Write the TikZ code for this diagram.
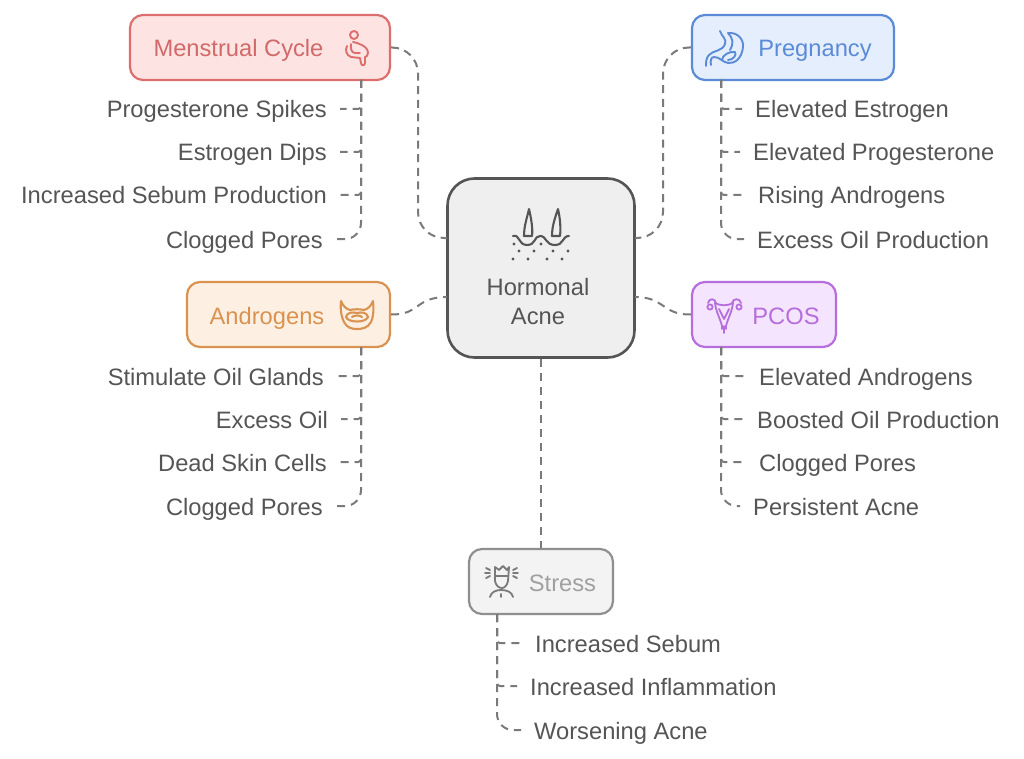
\documentclass[tikz,border=0pt]{standalone}
\usepackage{fontspec}
\setmainfont{Liberation Sans}
\usetikzlibrary{calc}
\definecolor{inkgray}{HTML}{555555}
\definecolor{linkgray}{HTML}{7A7A7A}
\definecolor{redline}{HTML}{DC6E6E}
\definecolor{redfill}{HTML}{FDE4E3}
\definecolor{blueline}{HTML}{5B8BD6}
\definecolor{bluefill}{HTML}{E4EEFD}
\definecolor{orangeline}{HTML}{D9924F}
\definecolor{orangefill}{HTML}{FDF0E3}
\definecolor{purpleline}{HTML}{B56EDC}
\definecolor{purplefill}{HTML}{F5E4FD}
\definecolor{grayline}{HTML}{8F8F8F}
\definecolor{grayfill}{HTML}{F3F3F3}
\definecolor{hubfill}{HTML}{EFEFEF}

\begin{document}
\begin{tikzpicture}[
  x=1pt, y=-1pt,
  font=\fontsize{23.7}{27.5}\selectfont,
  % Node styles
  hub/.style={draw=inkgray, fill=hubfill, line width=2.6pt, rounded corners=27pt, minimum width=187pt, minimum height=179pt, inner sep=0pt},
  topic/.style={line width=2.2pt, rounded corners=13pt, minimum height=65pt, inner sep=0pt},
  topicred/.style={topic, draw=redline, fill=redfill},
  topicblue/.style={topic, draw=blueline, fill=bluefill},
  topicorange/.style={topic, draw=orangeline, fill=orangefill},
  topicpurple/.style={topic, draw=purpleline, fill=purplefill},
  topicgray/.style={topic, draw=grayline, fill=grayfill},
  % Text styles
  item/.style={text=inkgray, inner xsep=13pt, inner ysep=0pt, text height=18pt, text depth=0pt},
  itemleft/.style={item, anchor=east},
  itemright/.style={item, anchor=west},
  title/.style={inner sep=0pt, text height=18pt, text depth=0pt},
  % Edge styles
  link/.style={draw=linkgray, line width=2pt, dash pattern=on 8pt off 6pt},
  hublink/.style={draw=linkgray, line width=2pt, dash pattern=on 8pt off 5.6pt, rounded corners=26pt},
  twig/.style={link, rounded corners=3pt},
  lasttwig/.style={link, rounded corners=16pt},
  % Icon style
  icon/.style={line width=1.9pt, line cap=round, line join=round}
]

\useasboundingbox (0,0) rectangle (1024,759);
\fill[white] (0,0) rectangle (1024,759);

% ------------------------------------------------------------
% Central node
% ------------------------------------------------------------
\node[hub] (hub) at (541,268) {};
\node[inner sep=0pt, text=inkgray, align=center] (hub_t) at (538,301.5) {Hormonal\\[1.5pt]Acne};

% Where the links meet the central node
\coordinate (hub_lt) at (447,238);
\coordinate (hub_rt) at (635,238);
\coordinate (hub_lb) at (447,297);
\coordinate (hub_rb) at (635,297);

% ------------------------------------------------------------
% Topic boxes
% ------------------------------------------------------------
\node[topicred, minimum width=260pt]    (mc) at (260,47.5) {};
\node[topicblue, minimum width=202pt]   (pr) at (793,47.5) {};
\node[topicorange, minimum width=203pt] (an) at (288.5,314.5) {};
\node[topicpurple, minimum width=144pt] (pc) at (764,314.5) {};
\node[topicgray, minimum width=144pt]   (st) at (541,581.5) {};

\node[title, text=redline!95!black]    (mc_t) at (238.5,48) {Menstrual Cycle};
\node[title, text=blueline]            (pr_t) at (815,48) {Pregnancy};
\node[title, text=orangeline]          (an_t) at (267,315) {Androgens};
\node[title, text=purpleline]          (pc_t) at (786,315) {PCOS};
\node[title, text=grayline!85!white]   (st_t) at (562.5,582) {Stress};

% Free ends on the box edges, and the bends of the hub links
\coordinate (mc_s) at (361,80);
\coordinate (pr_s) at (721,80);
\coordinate (an_s) at (361,347);
\coordinate (pc_s) at (721,347);
\coordinate (st_s) at (497,614);
\coordinate (mc_in) at (418,238);
\coordinate (pr_in) at (663,238);

% ------------------------------------------------------------
% Links to the central node
% ------------------------------------------------------------
\draw[hublink] (mc.east) -| (mc_in) -- (hub_lt);
\draw[hublink] (pr.west) -| (pr_in) -- (hub_rt);
\draw[link] (an.east) .. controls (420,315) and (415,297) .. (hub_lb);
\draw[link] (pc.west) .. controls (662,315) and (665,297) .. (hub_rb);
\draw[link] (hub.south) -- (st.north);

% ------------------------------------------------------------
% Menstrual Cycle items
% ------------------------------------------------------------
\node[itemleft] (mc_a) at (340,109) {Progesterone Spikes};
\node[itemleft] (mc_b) at (340,152) {Estrogen Dips};
\node[itemleft] (mc_c) at (340,195) {Increased Sebum Production};
\node[itemleft] (mc_d) at (336,239) {Clogged Pores};
\draw[twig] (mc_s) |- (mc_a.east);
\draw[twig] (mc_s) |- (mc_b.east);
\draw[twig] (mc_s) |- (mc_c.east);
\draw[lasttwig] (mc_s) |- (mc_d.east);

% ------------------------------------------------------------
% Pregnancy items
% ------------------------------------------------------------
\node[itemright] (pr_a) at (742,109) {Elevated Estrogen};
\node[itemright] (pr_b) at (740,152) {Elevated Progesterone};
\node[itemright] (pr_c) at (745,195) {Rising Androgens};
\node[itemright] (pr_d) at (744,239) {Excess Oil Production};
\draw[twig] (pr_s) |- (pr_a.west);
\draw[twig] (pr_s) |- (pr_b.west);
\draw[twig] (pr_s) |- (pr_c.west);
\draw[lasttwig] (pr_s) |- (pr_d.west);

% ------------------------------------------------------------
% Androgens items
% ------------------------------------------------------------
\node[itemleft] (an_a) at (337,376) {Stimulate Oil Glands};
\node[itemleft] (an_b) at (341,419) {Excess Oil};
\node[itemleft] (an_c) at (340,462) {Dead Skin Cells};
\node[itemleft] (an_d) at (336,506) {Clogged Pores};
\draw[twig] (an_s) |- (an_a.east);
\draw[twig] (an_s) |- (an_b.east);
\draw[twig] (an_s) |- (an_c.east);
\draw[lasttwig] (an_s) |- (an_d.east);

% ------------------------------------------------------------
% PCOS items
% ------------------------------------------------------------
\node[itemright] (pc_a) at (746,376) {Elevated Androgens};
\node[itemright] (pc_b) at (744,419) {Boosted Oil Production};
\node[itemright] (pc_c) at (746,462) {Clogged Pores};
\node[itemright] (pc_d) at (740,506) {Persistent Acne};
\draw[twig] (pc_s) |- (pc_a.west);
\draw[twig] (pc_s) |- (pc_b.west);
\draw[twig] (pc_s) |- (pc_c.west);
\draw[lasttwig] (pc_s) |- (pc_d.west);

% ------------------------------------------------------------
% Stress items
% ------------------------------------------------------------
\node[itemright] (st_a) at (522,643) {Increased Sebum};
\node[itemright] (st_b) at (517,686) {Increased Inflammation};
\node[itemright] (st_c) at (521,730) {Worsening Acne};
\draw[twig] (st_s) |- (st_a.west);
\draw[twig] (st_s) |- (st_b.west);
\draw[lasttwig] (st_s) |- (st_c.west);

% ------------------------------------------------------------
% Icons (line drawings, at picture coordinates)
% ------------------------------------------------------------
% Hair follicles
\begin{scope}[icon, draw=inkgray, line width=2.1pt]
  \draw (524,236) .. controls (524,226) and (527,218) .. (529,209) .. controls (531,218) and (533,228) .. (532,236) -- cycle;
  \draw (552,236) .. controls (552,226) and (555,218) .. (558,209) .. controls (560,218) and (561,228) .. (560,236) -- cycle;
  \draw (513,236) .. controls (520,234) and (518,245) .. (527,245) .. controls (536,245) and (534,236) .. (540,236) .. controls (547,236) and (545,245) .. (555,245) .. controls (564,245) and (562,236) .. (569,236);
  \foreach \dotx/\doty in {514/244,541/244,519/251,534/251,553/251,568/251,513/259,528/259,547/259,562/259}
    \fill[inkgray] (\dotx,\doty) circle (1.6pt);
\end{scope}

% Seated figure
\begin{scope}[icon, draw=redline]
  \draw (354,35) circle (4pt);
  \draw (353,42) .. controls (358,43) and (368,46) .. (368,53) .. controls (368,56) and (366,57) .. (365,57) -- (365,63) .. controls (365,66) and (361,66) .. (361,63) -- (360,58) -- (351,57) .. controls (346,55) and (345,50) .. (347,46);
  \draw (351,44) .. controls (350,49) and (352,53) .. (355,53) -- (360,53);
\end{scope}

% Stomach
\begin{scope}[icon, draw=blueline]
  \draw (720,31) .. controls (722,37) and (727,39) .. (725,44) .. controls (722,52) and (713,50) .. (709,55) .. controls (706,58) and (706,62) .. (706,66);
  \draw (728,33) .. controls (738,32) and (744,40) .. (743,47) .. controls (742,58) and (735,64) .. (728,63) .. controls (722,62) and (720,57) .. (714,57) .. controls (711,57) and (710,61) .. (711,65);
  \draw (728,33) .. controls (733,38) and (734,44) .. (730,50);
  \draw (722,60) .. controls (722,55) and (730,51) .. (735,52) .. controls (737,55) and (733,60) .. (728,60);
\end{scope}

% Beard
\begin{scope}[icon, draw=orangeline, line width=2.1pt]
  \draw (341,301) .. controls (340,312) and (342,318) .. (344,322) .. controls (347,328) and (352,329) .. (357,329) .. controls (362,329) and (368,328) .. (371,322) .. controls (373,318) and (374,312) .. (373,301) .. controls (371,306) and (368,309) .. (364,310) .. controls (360,309) and (354,309) .. (350,310) .. controls (346,309) and (343,306) .. (341,301) -- cycle;
  \draw (346,317) .. controls (347,312) and (353,312) .. (357,313) .. controls (361,312) and (367,312) .. (368,317) .. controls (366,323) and (348,323) .. (346,317) -- cycle;
  \draw (352,317) .. controls (354,315) and (360,315) .. (362,317);
\end{scope}

% Uterus
\begin{scope}[icon, draw=purpleline, line width=1.8pt]
  \draw (715,303) .. controls (716,312) and (720,318) .. (722,326) -- (722,329) (733,303) .. controls (732,312) and (728,318) .. (726,326) -- (726,329);
  \draw (724,333) -- (724,326);
  \draw (715,303) .. controls (720,306) and (728,306) .. (733,303);
  \draw (719,309) -- (724,319) -- (729,309);
  \draw (710,307) circle (2.6pt);
  \draw (739,307) circle (2.6pt);
  \draw (708,303) .. controls (709,298) and (715,298) .. (716,303);
  \draw (732,303) .. controls (733,298) and (740,298) .. (741,303);
\end{scope}

% Head with crown and rays
\begin{scope}[icon, draw=grayline!85!black, line width=1.8pt]
  \draw (495,567) -- (499,570) -- (503,566) -- (507,570) -- (509,567) -- (508,581) .. controls (507,586) and (504,588) .. (502,588) .. controls (499,588) and (496,586) .. (495,581) -- cycle;
  \draw (495,576) -- (508,576);
  \draw (490,597) .. controls (491,592) and (496,590) .. (501,590) .. controls (507,590) and (512,592) .. (513,597);
  \draw (501,594) -- (501,597);
  \draw (486,568) -- (490,570) (485,573) -- (490,573) (486,578) -- (490,576);
  \draw (517,568) -- (513,570) (518,573) -- (513,573) (517,578) -- (513,576);
\end{scope}

\end{tikzpicture}
\end{document}
